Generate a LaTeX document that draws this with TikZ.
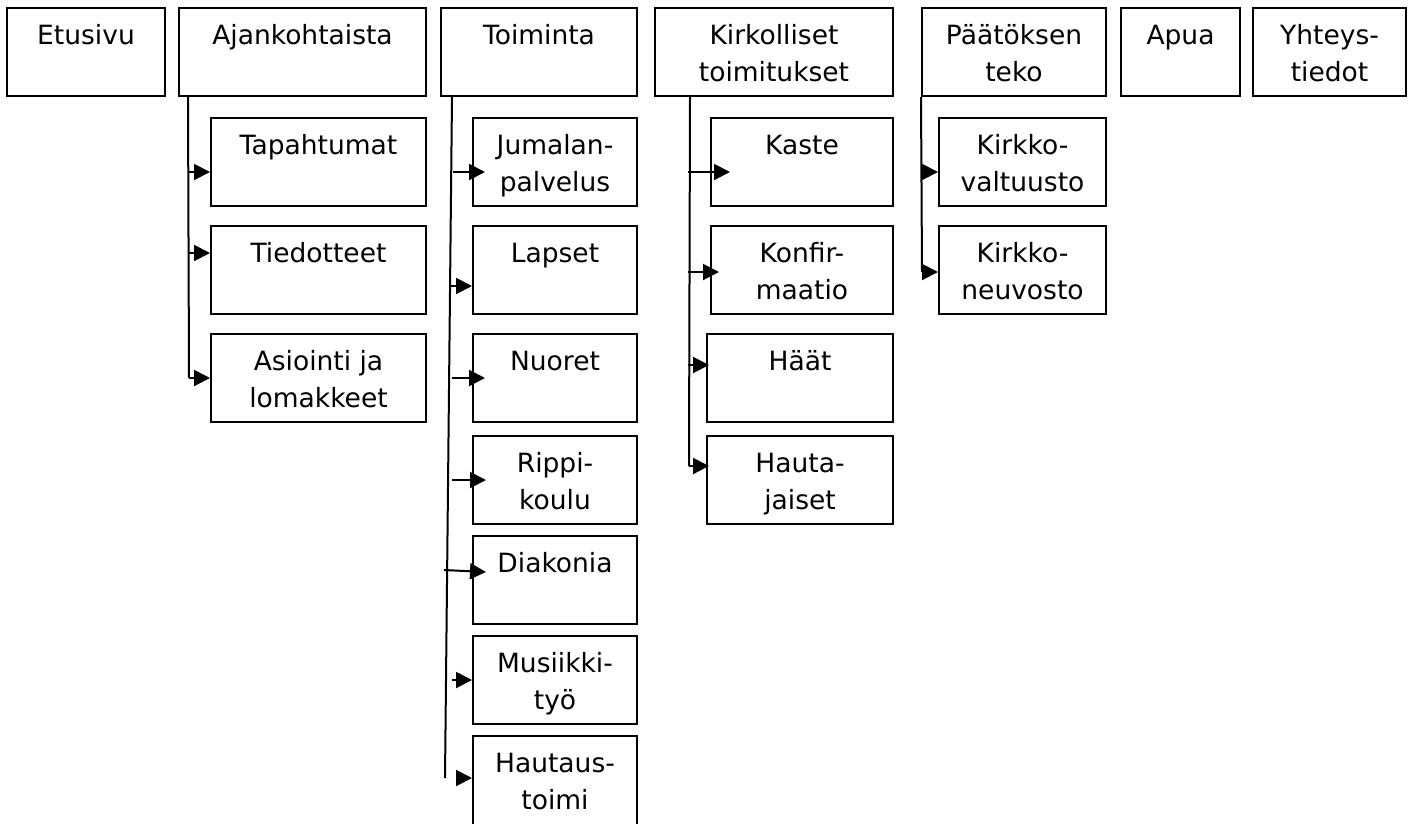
\documentclass[tikz,border=0pt]{standalone}
\usepackage{fontspec}
\setmainfont{DejaVu Sans}
\usetikzlibrary{arrows.meta,calc}
\newcommand\st{\rule{0pt}{27pt}}
\newcommand\mybox[6]{%
  \node[box, minimum width={#4-#2}, minimum height={#5-#3}] (#1) at ({(#2+#4)/2},{(#3+#5)/2}) {};
  \node[lbl] (#1t) at ($(#1.north)+(0,10)$) {\st #6};}
\tikzset{
  box/.style={draw, line width=2pt, inner sep=0pt},
  lbl/.style={anchor=north, inner sep=0pt, align=center, font=\fontsize{26.5}{37}\selectfont},
  trunk/.style={line width=2pt},
  arr/.style={line width=2pt, -{Triangle[length=16pt,width=16pt]}}
}
\begin{document}
\begin{tikzpicture}[x=1pt,y=-1pt]
\useasboundingbox (0,0) rectangle (1414,823);
% top row
\mybox{et}{7}{8}{165}{96}{Etusivu}
\mybox{aj}{179}{8}{426}{96}{Ajankohtaista}
\mybox{toi}{441}{8}{637}{96}{Toiminta}
\mybox{kir}{655}{8}{893}{96}{Kirkolliset\\toimitukset}
\mybox{paa}{922}{8}{1106}{96}{Päätöksen\\teko}
\mybox{apu}{1121}{8}{1240}{96}{Apua}
\mybox{yht}{1253}{8}{1406}{96}{Yhteys-\\tiedot}
% Ajankohtaista children
\mybox{tap}{211}{118}{426}{206}{Tapahtumat}
\mybox{tie}{211}{226}{426}{314}{Tiedotteet}
\mybox{asi}{211}{334}{426}{422}{Asiointi ja\\lomakkeet}
% Toiminta children
\mybox{jum}{473}{118}{637}{206}{Jumalan-\\palvelus}
\mybox{lap}{473}{226}{637}{314}{Lapset}
\mybox{nuo}{473}{334}{637}{422}{Nuoret}
\mybox{rip}{473}{436}{637}{524}{Rippi-\\koulu}
\mybox{dia}{473}{536}{637}{624}{Diakonia}
\mybox{mus}{473}{636}{637}{724}{Musiikki-\\työ}
\mybox{hau}{473}{736}{637}{826}{Hautaus-\\toimi}
% Kirkolliset children
\mybox{kas}{711}{118}{893}{206}{Kaste}
\mybox{kon}{711}{226}{893}{314}{Konfir-\\maatio}
\mybox{haa}{707}{334}{893}{422}{Häät}
\mybox{hja}{707}{436}{893}{524}{Hauta-\\jaiset}
% Paatoksen children
\mybox{kv}{939}{118}{1106}{206}{Kirkko-\\valtuusto}
\mybox{kn}{939}{226}{1106}{314}{Kirkko-\\neuvosto}
% trunks
\coordinate (ajb) at (189,378);
\draw[trunk] ($(aj.south west)+(10,0)$) -- (ajb);
\coordinate (toib) at (445,778);
\draw[trunk] ($(toi.south west)+(12,0)$) -- (toib);
\coordinate (kirb) at (689,466);
\draw[trunk] ($(kir.south west)+(36,0)$) -- (kirb);
\coordinate (paab) at (922,272);
\draw[trunk] (paa.south west) -- (paab);
% Ajankohtaista arrows
\draw[arr] (189,172) -- ($(tap.west)+(0,10)$);
\draw[arr] (189,253) -- ($(tie.west)+(0,-17)$);
\draw[arr] (ajb) -- (asi.west);
% Toiminta arrows
\draw[arr] (453,172) -- ($(jum.west)+(13,10)$);
\draw[arr] (451,286) -- ($(lap.west)+(0,16)$);
\draw[arr] (452,378) -- ($(nuo.west)+(13,0)$);
\draw[arr] (452,480) -- ($(rip.west)+(14,0)$);
\draw[arr] (444,570) -- ($(dia.west)+(14,-8)$);
\draw[arr] (452,680) -- (mus.west);
\draw[arr] (457,778) -- ($(hau.west)+(0,-3)$);
% Kirkolliset arrows
\draw[arr] (688,172) -- ($(kas.west)+(20,10)$);
\draw[arr] (688,272) -- ($(kon.west)+(9,2)$);
\draw[arr] (688,365) -- ($(haa.west)+(3,-13)$);
\draw[arr] (kirb) -- ($(hja.west)+(3,-14)$);
% Paatoksen arrows
\draw[arr] (922,172) -- ($(kv.west)+(0,10)$);
\draw[arr] (paab) -- ($(kn.west)+(0,2)$);
\end{tikzpicture}
\end{document}
